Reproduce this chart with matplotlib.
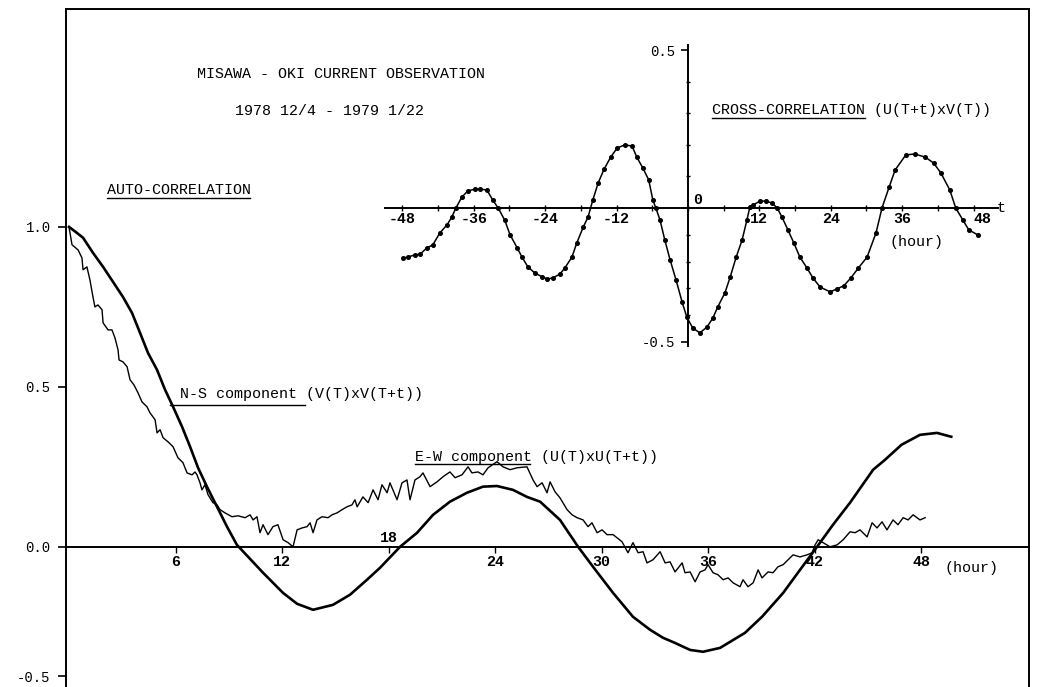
import numpy as np
import matplotlib
matplotlib.use("Agg")
import matplotlib.pyplot as plt
from matplotlib.lines import Line2D

plt.rcParams['font.family'] = ['Liberation Mono', 'DejaVu Sans Mono']

# auto-correlation, N-S component (smooth curve)
ns_hour = [0.0, 0.45, 0.79, 1.35, 1.92, 2.48, 3.04, 3.55, 4.0, 4.45, 4.96, 5.41, 5.86,
           6.37, 6.82, 7.27, 7.77, 8.34, 8.9, 9.46, 10.93, 12.06, 12.85, 13.75, 14.87,
           15.83, 16.79, 17.52, 18.65, 19.61, 20.51, 21.46, 22.42, 23.32, 24.11, 25.01,
           25.8, 26.54, 27.66, 28.68, 29.52, 30.65, 31.77, 32.73, 33.46, 34.14, 34.99,
           35.72, 36.68, 38.08, 39.04, 40.23, 41.18, 42.14, 43.04, 44.0, 45.3, 45.97,
           46.9, 47.94, 48.9, 49.7]
ns_corr = [1.0, 0.981, 0.966, 0.919, 0.875, 0.828, 0.781, 0.731, 0.669, 0.606, 0.553,
           0.491, 0.438, 0.375, 0.313, 0.247, 0.188, 0.125, 0.063, 0.006, -0.10, -0.178,
           -0.22, -0.243, -0.224, -0.185, -0.127, -0.081, 0.0, 0.044, 0.10, 0.141, 0.169,
           0.188, 0.19, 0.178, 0.156, 0.141, 0.084, 0.0, -0.077, -0.178, -0.27, -0.32,
           -0.351, -0.371, -0.398, -0.405, -0.39, -0.332, -0.27, -0.178, -0.089, 0.0,
           0.069, 0.138, 0.241, 0.272, 0.319, 0.35, 0.356, 0.344]

# auto-correlation, E-W component (noisy curve)
ew_hour = [0.0, 0.17, 0.51, 0.73, 0.79, 1.01, 1.18, 1.35, 1.46, 1.63, 1.86, 1.92, 2.2,
           2.42, 2.59, 2.76, 2.82, 3.04, 3.27, 3.44, 3.66, 3.89, 4.11, 4.39, 4.56, 4.85,
           4.96, 5.13, 5.3, 5.58, 5.86, 6.14, 6.42, 6.65, 6.93, 7.1, 7.21, 7.38, 7.49,
           7.66, 7.83, 8.11, 8.34, 8.51, 8.79, 9.18, 9.52, 9.92, 10.2, 10.37, 10.59,
           10.76, 10.93, 11.21, 11.49, 11.77, 12.06, 12.34, 12.62, 12.85, 13.13, 13.41,
           13.58, 13.75, 13.97, 14.25, 14.59, 14.82, 15.1, 15.38, 15.66, 15.94, 16.11,
           16.23, 16.56, 16.85, 17.13, 17.41, 17.63, 17.92, 18.08, 18.48, 18.76, 19.04,
           19.21, 19.49, 19.77, 19.94, 20.34, 20.73, 21.07, 21.46, 21.75, 22.14, 22.48,
           22.7, 23.04, 23.32, 23.61, 24.11, 24.45, 24.85, 25.24, 25.8, 26.14, 26.37,
           26.65, 26.93, 27.1, 27.38, 27.66, 28.06, 28.34, 28.62, 28.96, 29.24, 29.46,
           29.75, 30.03, 30.31, 30.65, 31.15, 31.49, 31.77, 32.06, 32.34, 32.56, 32.9,
           33.3, 33.58, 33.86, 34.14, 34.54, 34.7, 34.99, 35.27, 35.55, 35.83, 36.0,
           36.28, 36.56, 36.85, 37.13, 37.41, 37.8, 37.97, 38.25, 38.54, 38.82, 39.04,
           39.38, 39.66, 39.94, 40.23, 40.51, 40.79, 41.18, 41.58, 41.86, 42.03, 42.2,
           42.48, 42.87, 43.27, 43.61, 44.0, 44.28, 44.56, 44.96, 45.24, 45.52, 45.8,
           46.08, 46.42, 46.7, 46.99, 47.27, 47.55, 47.94, 48.23]
ew_corr = [1.0, 0.944, 0.928, 0.903, 0.866, 0.875, 0.834, 0.781, 0.75, 0.756, 0.741,
           0.70, 0.678, 0.678, 0.653, 0.616, 0.584, 0.578, 0.563, 0.522, 0.506, 0.481,
           0.453, 0.438, 0.419, 0.397, 0.356, 0.366, 0.341, 0.328, 0.313, 0.278, 0.263,
           0.231, 0.225, 0.234, 0.225, 0.2, 0.178, 0.194, 0.163, 0.138, 0.131, 0.116,
           0.106, 0.094, 0.097, 0.091, 0.10, 0.084, 0.094, 0.044, 0.069, 0.038, 0.063,
           0.069, 0.022, 0.013, 0.0, 0.053, 0.059, 0.063, 0.075, 0.044, 0.084, 0.094,
           0.091, 0.10, 0.106, 0.116, 0.125, 0.131, 0.147, 0.125, 0.156, 0.138, 0.178,
           0.147, 0.194, 0.169, 0.20, 0.147, 0.20, 0.209, 0.147, 0.209, 0.219, 0.231,
           0.188, 0.203, 0.219, 0.234, 0.216, 0.225, 0.25, 0.231, 0.234, 0.225, 0.247,
           0.266, 0.25, 0.241, 0.247, 0.25, 0.209, 0.188, 0.20, 0.169, 0.203, 0.172,
           0.153, 0.116, 0.10, 0.091, 0.084, 0.063, 0.075, 0.044, 0.053, 0.038, 0.038,
           0.016, -0.023, 0.013, -0.023, -0.019, -0.062, -0.05, -0.019, -0.062, -0.058,
           -0.097, -0.062, -0.10, -0.097, -0.135, -0.097, -0.089, -0.069, -0.10, -0.108,
           -0.127, -0.12, -0.139, -0.154, -0.127, -0.154, -0.139, -0.089, -0.12, -0.097,
           -0.10, -0.077, -0.069, -0.05, -0.031, -0.039, -0.031, -0.023, 0.006, 0.022,
           0.013, 0.0, 0.006, 0.022, 0.047, 0.044, 0.053, 0.031, 0.075, 0.059, 0.078,
           0.053, 0.084, 0.069, 0.091, 0.084, 0.10, 0.084, 0.091]

# cross-correlation U(T+t) x V(T)
cc_lag = [-47.9, -47.1, -45.9, -45.0, -43.9, -42.9, -41.7, -40.5, -39.7, -39.0, -38.0,
          -37.0, -35.8, -35.0, -33.8, -32.8, -31.9, -30.8, -29.9, -28.7, -27.9, -26.9,
          -25.7, -24.5, -23.7, -22.7, -21.5, -20.7, -19.5, -18.7, -17.6, -16.8, -16.0,
          -15.1, -14.1, -13.0, -11.9, -10.6, -9.4, -8.6, -7.6, -6.6, -5.9, -5.4, -4.7,
          -3.9, -3.0, -2.0, -1.0, -0.2, 0.8, 2.0, 3.2, 4.2, 5.0, 6.2, 7.1, 8.1, 9.1,
          9.9, 10.4, 10.9, 12.1, 13.1, 14.1, 15.0, 15.8, 16.8, 17.8, 18.8, 20.0, 21.0,
          22.2, 23.9, 25.0, 26.2, 27.4, 28.6, 30.1, 31.6, 32.6, 33.8, 34.8, 36.6, 38.1,
          39.9, 41.3, 42.5, 44.0, 45.0, 46.2, 47.2, 48.7]
cc_corr = [-0.187, -0.183, -0.175, -0.172, -0.149, -0.138, -0.093, -0.063, -0.034, 0.0,
           0.035, 0.054, 0.06, 0.06, 0.057, 0.025, 0.0, -0.045, -0.10, -0.149, -0.183,
           -0.22, -0.243, -0.257, -0.265, -0.261, -0.246, -0.224, -0.183, -0.131, -0.071,
           -0.034, 0.025, 0.079, 0.123, 0.161, 0.19, 0.20, 0.196, 0.161, 0.127, 0.089,
           0.025, 0.0, -0.045, -0.119, -0.194, -0.269, -0.35, -0.407, -0.448, -0.466,
           -0.444, -0.41, -0.369, -0.317, -0.257, -0.183, -0.119, -0.045, 0.003, 0.009,
           0.022, 0.022, 0.016, 0.0, -0.034, -0.082, -0.131, -0.183, -0.224, -0.261,
           -0.295, -0.313, -0.302, -0.29, -0.26, -0.225, -0.183, -0.093, 0.0, 0.066, 0.12,
           0.168, 0.171, 0.161, 0.142, 0.111, 0.057, 0.0, -0.045, -0.082, -0.10]

auto_ticks = [6, 12, 18, 24, 30, 36, 42, 48]
cross_ticks = [-48, -36, -24, -12, 12, 24, 36, 48]

W, H = 1046, 687
FS = 10.8


def rect(x0, y0, x1, y1):
    return [x0 / W, 1 - y1 / H, (x1 - x0) / W, (y1 - y0) / H]


def squash(k):
    # the plotter drew negative values a bit compressed
    return (lambda v: np.where(np.asarray(v) >= 0, v, np.asarray(v) * k),
            lambda u: np.where(np.asarray(u) >= 0, u, np.asarray(u) / k))


fig = plt.figure(figsize=(W / 100, H / 100), dpi=100)

# ---- main auto-correlation plot
ax = fig.add_axes(rect(66, 9, 1029, 687))
ax.set_yscale('function', functions=squash(0.81))
ax.set_xlim(-0.169, 54.08)
ax.set_ylim(-0.541, 1.681)

ax.plot(ns_hour, ns_corr, color='black', lw=1.9)
ax.plot(ew_hour, ew_corr, color='black', lw=1.0)

for s in ['left', 'top', 'right']:
    ax.spines[s].set_linewidth(1.4)
ax.spines['bottom'].set_position(('data', 0))
ax.spines['bottom'].set_linewidth(1.4)

ax.set_xticks(auto_ticks)
ax.tick_params(axis='x', direction='out', length=4, width=1, labelbottom=False)
ax.set_yticks([-0.5, 0, 0.5, 1.0])
ax.set_yticklabels(['-0.5', '0.0', '0.5', '1.0'])
ax.tick_params(axis='y', direction='out', length=6, width=1.2, pad=5, labelsize=10)
ax.minorticks_off()

for h in auto_ticks:
    yv = 0.028 if h == 18 else -0.06
    ax.text(h, yv, str(h), ha='center', va='center', fontsize=FS, fontweight='bold')
ax.text(49.3, -0.08, '(hour)', ha='left', va='center', fontsize=FS)

# ---- inset cross-correlation plot
ax2 = fig.add_axes(rect(385, 45, 998, 346))
ax2.patch.set_alpha(0)
ax2.set_yscale('function', functions=squash(0.848))
ax2.set_xlim(-50.92, 52.1)
ax2.set_ylim(-0.515, 0.516)

ax2.plot(cc_lag, cc_corr, color='black', lw=1.1, marker='o', ms=2.6)

ax2.spines['top'].set_visible(False)
ax2.spines['right'].set_visible(False)
ax2.spines['left'].set_position(('data', 0))
ax2.spines['bottom'].set_position(('data', 0))
ax2.spines['left'].set_linewidth(1.4)
ax2.spines['bottom'].set_linewidth(1.4)

ax2.set_xticks(range(-48, 49, 6))
ax2.tick_params(axis='x', direction='inout', length=5, width=1, labelbottom=False)
ax2.set_yticks([-0.5, 0.5])
ax2.set_yticklabels(['-0.5', '0.5'])
ax2.set_yticks([-0.4, -0.3, -0.2, -0.1, 0.1, 0.2, 0.3, 0.4], minor=True)
ax2.tick_params(axis='y', which='major', direction='out', length=5, width=1.2,
                pad=4, labelsize=10)
ax2.tick_params(axis='y', which='minor', direction='inout', length=3, width=1)

for t in cross_ticks:
    # the 48 label sits just right of the curve in the original
    tx = 49.5 if t == 48 else t
    ax2.text(tx, -0.04, str(t), ha='center', va='center', fontsize=FS, fontweight='bold')
ax2.text(1.7, 0.025, '0', ha='center', va='center', fontsize=FS, fontweight='bold')
ax2.text(52.6, 0.0, 't', ha='center', va='center', fontsize=FS, clip_on=False)
ax2.text(33.9, -0.127, '(hour)', ha='left', va='center', fontsize=FS)

# ---- annotations
def ftext(x, y, s, **kw):
    fig.text(x / W, 1 - y / H, s, va='center', fontsize=FS, **kw)


def uline(x0, x1, y, lw=1.0):
    fig.add_artist(Line2D([x0 / W, x1 / W], [1 - y / H, 1 - y / H],
                          color='black', lw=lw))


ftext(197, 74, 'MISAWA - OKI CURRENT OBSERVATION')
ftext(235, 111, '1978 12/4 - 1979 1/22')
ftext(107, 190, 'AUTO-CORRELATION')
uline(107, 250, 198)
ftext(712, 110, 'CROSS-CORRELATION (U(T+t)xV(T))')
uline(712, 865, 118)
ftext(180, 394, 'N-S component (V(T)xV(T+t))')
uline(170, 305, 405)
ftext(415, 457, 'E-W component (U(T)xU(T+t))')
uline(415, 530, 464)

fig.savefig('out.png', dpi=100)
